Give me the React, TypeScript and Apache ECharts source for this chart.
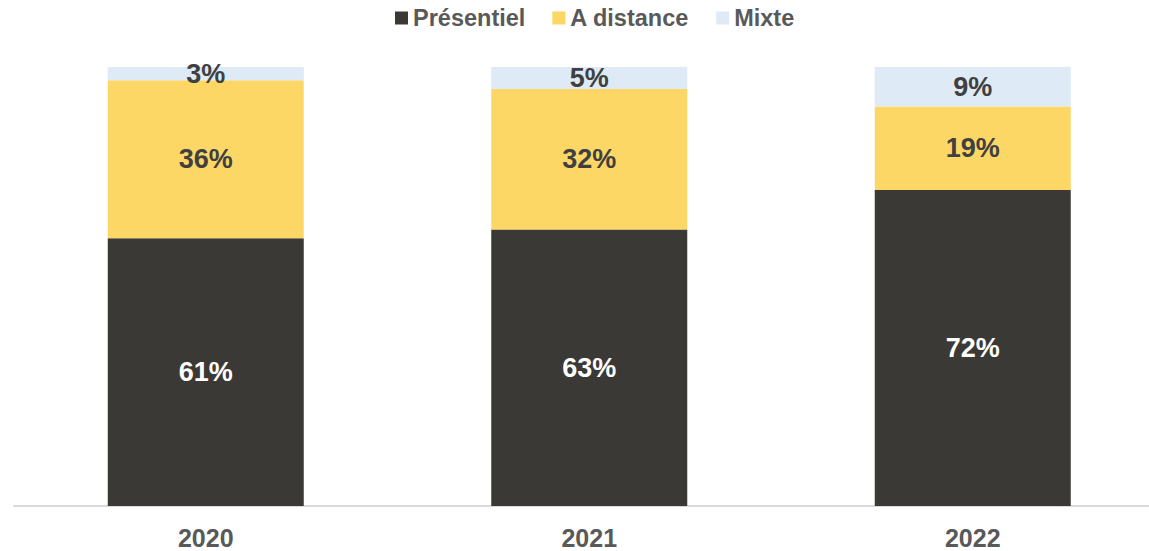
import React, { useEffect, useRef } from "react";
import * as echarts from "echarts";

const categories = ["2020", "2021", "2022"];
const presentiel = [61, 63, 72];
const aDistance = [36, 32, 19];
const mixte = [3, 5, 9];
const seriesNames = ["Présentiel", "A distance", "Mixte"];

export default function App() {
  const ref = useRef<HTMLDivElement>(null);
  useEffect(() => {
    if (!ref.current) return;
    const chart = echarts.init(ref.current, undefined, { renderer: "svg" });
    const font = "Liberation Sans, Arial, sans-serif";
    const lbl = (color: string) => ({
      show: true,
      position: "inside" as const,
      formatter: "{c}%",
      color,
      fontFamily: font,
      fontWeight: "bold" as const,
      fontSize: 27,
    });
    chart.setOption({
      animation: false,
      legend: {
        top: 1,
        left: 390,
        itemWidth: 13,
        itemHeight: 13,
        itemGap: 27,
        icon: "rect",
        textStyle: { fontFamily: font, fontWeight: "bold", fontSize: 23.5, color: "#595959" },
        data: seriesNames,
      },
      grid: { left: 14, top: 67, width: 1150.5, bottom: 45, outerBoundsMode: "none", containLabel: false },
      xAxis: {
        type: "category",
        data: categories,
        axisLine: { lineStyle: { color: "#d9d9d9", width: 2 } },
        axisTick: { show: false },
        axisLabel: { margin: 19, fontFamily: font, fontWeight: "bold", fontSize: 25, color: "#595959" },
      },
      yAxis: { type: "value", min: 0, max: 100, show: false, splitLine: { show: false } },
      series: [
        { name: seriesNames[0], type: "bar", stack: "t", barWidth: 196, data: presentiel, itemStyle: { color: "#3b3936" }, label: lbl("#ffffff") },
        { name: seriesNames[1], type: "bar", stack: "t", barWidth: 196, data: aDistance, itemStyle: { color: "#fdd766" }, label: lbl("#404040") },
        { name: seriesNames[2], type: "bar", stack: "t", barWidth: 196, data: mixte, itemStyle: { color: "#deeaf6" }, label: lbl("#404040") },
      ],
    });
    return () => chart.dispose();
  }, []);
  return <div ref={ref} style={{ position: "fixed", left: 0, top: 0, width: 1149, height: 551, background: "#fff" }} />;
}
